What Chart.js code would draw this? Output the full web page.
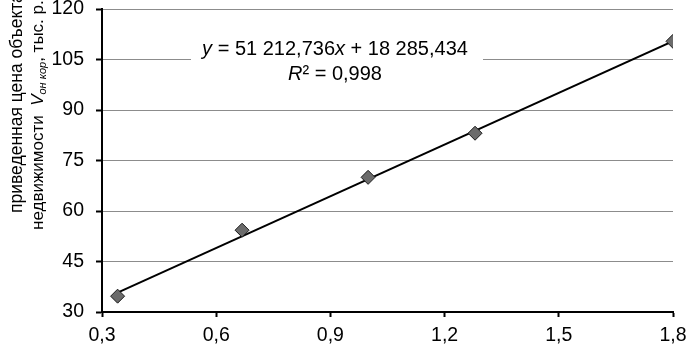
<!DOCTYPE html>
<html>
<head>
<meta charset="utf-8">
<script src="https://cdn.jsdelivr.net/npm/chart.js@4"></script>
<style>
  html, body { margin: 0; padding: 0; background: #fff; }
  #wrap { width: 687px; height: 347px; }
</style>
</head>
<body>
<div id="wrap"><canvas id="chart" width="687" height="347"></canvas></div>
<script>
  // Data
  const xValues = [0.341, 0.668, 0.999, 1.28, 1.8];
  const yValues = [34.7, 54.3, 70.0, 83.1, 110.4];
  const xTicks = [0.3, 0.6, 0.9, 1.2, 1.5, 1.8];
  const yTicks = [30, 45, 60, 75, 90, 105, 120];

  // Trend line as printed on the chart (thousands -> tys. r.)
  const slope = 51.212736;
  const intercept = 18.285434;

  const FONT = '"Liberation Sans", Arial, sans-serif';
  const fmt = v => v.toFixed(1).replace('.', ',');

  const points = xValues.map((x, i) => ({ x: x, y: yValues[i] }));
  const xMin = Math.min(...xValues), xMax = Math.max(...xValues);
  const trend = [xMin, xMax].map(x => ({ x: x, y: slope * x + intercept }));

  // Draws a row of text pieces, each with its own font, centred at cx
  function drawRuns(ctx, runs, cx, cy) {
    let total = 0;
    runs.forEach(r => { ctx.font = r.font; total += ctx.measureText(r.text).width; });
    let x = cx - total / 2;
    runs.forEach(r => {
      ctx.font = r.font;
      ctx.fillText(r.text, x, cy + (r.dy || 0));
      x += ctx.measureText(r.text).width;
    });
  }

  const labelsPlugin = {
    id: 'labels',
    afterDatasetsDraw(chart) {
      const ctx = chart.ctx;
      ctx.save();
      // equation box
      ctx.fillStyle = '#fff';
      ctx.fillRect(191, 36, 292, 50);
      ctx.fillStyle = '#000';
      ctx.textBaseline = 'middle';
      const n = '20px ' + FONT, it = 'italic 20px ' + FONT;
      drawRuns(ctx, [
        { text: 'y', font: it },
        { text: ' = 51 212,736', font: n },
        { text: 'x', font: it },
        { text: ' + 18 285,434', font: n }
      ], 335, 49);
      drawRuns(ctx, [
        { text: 'R', font: it },
        { text: '²', font: n },
        { text: ' = 0,998', font: n }
      ], 335, 74);
      ctx.restore();
    },
    afterDraw(chart) {
      const ctx = chart.ctx;
      ctx.save();
      ctx.fillStyle = '#000';
      ctx.textBaseline = 'middle';
      ctx.textAlign = 'left';
      // y axis title, rotated, two lines
      ctx.translate(17, 213);
      ctx.rotate(-Math.PI / 2);
      ctx.font = '17.5px ' + FONT;
      ctx.fillText('приведенная цена объекта', 0, 0);
      ctx.restore();

      ctx.save();
      ctx.fillStyle = '#000';
      ctx.textBaseline = 'middle';
      ctx.translate(38, 230);
      ctx.rotate(-Math.PI / 2);
      const runs = [
        { text: 'недвижимости  ', font: '17px ' + FONT },
        { text: 'V', font: 'italic 17px ' + FONT },
        { text: 'он кор', font: 'italic 11px ' + FONT, dy: 5 },
        { text: ', тыс. р.', font: '17px ' + FONT }
      ];
      let x = 0;
      runs.forEach(r => {
        ctx.font = r.font;
        ctx.fillText(r.text, x, r.dy || 0);
        x += ctx.measureText(r.text).width;
      });
      ctx.restore();
    }
  };

  const ctx = document.getElementById('chart').getContext('2d');
  const chart = new Chart(ctx, {
    type: 'scatter',
    data: {
      datasets: [
        {
          label: 'trend',
          data: trend,
          showLine: true,
          borderColor: '#000',
          borderWidth: 2,
          pointRadius: 0,
          fill: false,
          order: 2
        },
        {
          label: 'points',
          data: points,
          pointStyle: 'rectRot',
          pointRadius: 7,
          pointBackgroundColor: '#6b6b6b',
          pointBorderColor: '#1a1a1a',
          pointBorderWidth: 1,
          showLine: false,
          order: 1
        }
      ]
    },
    options: {
      responsive: false,
      animation: false,
      layout: { padding: { left: 0, right: 14, top: 9, bottom: 0 } },
      plugins: {
        legend: { display: false },
        tooltip: { enabled: false }
      },
      scales: {
        x: {
          type: 'linear',
          min: xTicks[0],
          max: xTicks[xTicks.length - 1],
          afterBuildTicks: axis => { axis.ticks = xTicks.map(v => ({ value: v })); },
          afterFit: axis => {
            axis.height = 35;
            axis.paddingLeft = 0;
            axis.paddingRight = 0;
          },
          ticks: {
            color: '#000',
            font: { family: FONT, size: 19.5 },
            padding: 7,
            maxRotation: 0,
            callback: v => fmt(v)
          },
          grid: {
            drawOnChartArea: false,
            drawTicks: true,
            tickLength: 5,
            tickColor: '#000',
            tickWidth: 2
          },
          border: { color: '#000', width: 2 }
        },
        y: {
          type: 'linear',
          min: yTicks[0],
          max: yTicks[yTicks.length - 1],
          afterBuildTicks: axis => { axis.ticks = yTicks.map(v => ({ value: v })); },
          afterFit: axis => {
            axis.width = 102;
            axis.paddingTop = 0;
            axis.paddingBottom = 0;
          },
          ticks: {
            color: '#000',
            font: { family: FONT, size: 19.5 },
            padding: 12,
            callback: v => String(v)
          },
          grid: {
            color: '#8c8c8c',
            lineWidth: 1,
            drawTicks: true,
            tickLength: 6,
            tickColor: '#000',
            tickWidth: 2
          },
          border: { color: '#000', width: 2 }
        }
      }
    },
    plugins: [labelsPlugin]
  });
</script>
</body>
</html>
